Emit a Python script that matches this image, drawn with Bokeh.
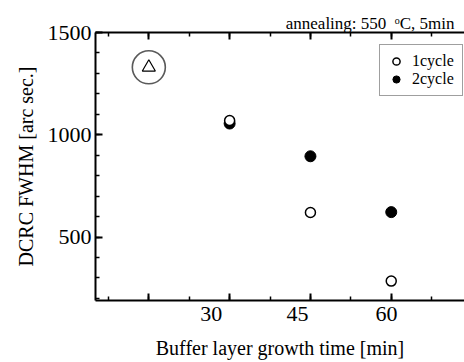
from bokeh.plotting import figure
from bokeh.models import (Legend, LegendItem, LinearAxis, SingleIntervalTicker,
                          FixedTicker, CustomJSTickFormatter, Range1d)
from bokeh.embed import file_html
from bokeh.resources import INLINE

# ---- data ----
x_1cycle = [30, 45, 60]
y_1cycle = [1070, 620, 285]
x_2cycle = [30, 45, 60]
y_2cycle = [1055, 895, 622]
x_ref = [15]
y_ref = [1330]
x_tick_labels = ["30", "45", "60"]
x_tick_label_pos = [26.6, 42.6, 59.1]

FONT = "Liberation Serif"

p = figure(width=464, height=362, output_backend="svg", toolbar_location=None,
           x_range=Range1d(5.1, 73.6), y_range=Range1d(190, 1500),
           min_border_left=95, min_border_right=0, min_border_top=32,
           min_border_bottom=62)
p.outline_line_color = None
p.xgrid.visible = False
p.ygrid.visible = False

xticker = SingleIntervalTicker(interval=15, num_minor_ticks=2)
yticker = SingleIntervalTicker(interval=500, num_minor_ticks=5)
blank = CustomJSTickFormatter(code="return '';")

def style_axis(ax):
    ax.axis_line_width = 2
    ax.major_tick_line_width = 2
    ax.minor_tick_line_width = 1.5
    ax.major_tick_in = 7
    ax.major_tick_out = 0
    ax.minor_tick_in = 4
    ax.minor_tick_out = 0
    ax.major_label_text_font = FONT
    ax.axis_label_text_font = FONT
    ax.axis_label_text_font_style = "normal"
    ax.axis_label_text_color = "black"
    ax.major_label_text_color = "black"

# left axis
ya = p.yaxis[0]
ya.ticker = yticker
style_axis(ya)
ya.major_label_text_font_size = "22px"
ya.major_label_standoff = 4
ya.axis_label = "DCRC FWHM [arc sec.]"
ya.axis_label_text_font_size = "20px"
ya.axis_label_standoff = 8

# bottom axis: ticks only
xa = p.xaxis[0]
xa.ticker = xticker
xa.formatter = blank
style_axis(xa)
xa.major_label_text_font_size = "1px"
xa.major_label_standoff = 0

# bottom label axis: tick labels where the reference draws them, plus title
la = LinearAxis(ticker=FixedTicker(ticks=x_tick_label_pos),
                formatter=CustomJSTickFormatter(
                    args=dict(pos=x_tick_label_pos, labs=x_tick_labels),
                    code="""
                    for (let i = 0; i < pos.length; i++) {
                        if (Math.abs(tick - pos[i]) < 1e-6) return labs[i];
                    }
                    return "";
                    """))
style_axis(la)
la.axis_line_alpha = 0
la.major_tick_line_alpha = 0
la.minor_tick_line_alpha = 0
la.major_tick_in = 0
la.minor_tick_in = 0
la.major_label_text_font_size = "22px"
la.major_label_standoff = 6
la.axis_label = "Buffer layer growth time [min]"
la.axis_label_text_font_size = "20px"
la.axis_label_standoff = 13
p.add_layout(la, "below")

# top axis
ta = LinearAxis(ticker=xticker, formatter=blank)
style_axis(ta)
ta.major_label_text_font_size = "1px"
ta.major_label_standoff = 0
p.add_layout(ta, "above")

# annotation as title
p.title.text = "annealing: 550\u00a0\u00a0\u1d52C, 5min"
p.title.align = "right"
p.title.offset = 10
p.title.standoff = 0
p.title.text_font = FONT
p.title.text_font_size = "17px"
p.title.text_font_style = "normal"
p.title.text_color = "black"

# points
r2 = p.scatter(x_2cycle, y_2cycle, marker="circle", size=11,
               fill_color="black", line_color="black", line_width=1)
r1 = p.scatter(x_1cycle, y_1cycle, marker="circle", size=10,
               fill_color="white", line_color="black", line_width=1.5)
p.scatter(x_ref, y_ref, marker="circle", size=33, fill_color=None,
          line_color="#5a5a5a", line_width=1.6)
p.scatter(x_ref, y_ref, marker="triangle", size=13, fill_color="white",
          line_color="black", line_width=1.2)

legend = Legend(items=[LegendItem(label="1cycle", renderers=[r1]),
                       LegendItem(label="2cycle", renderers=[r2])],
                location=(284, 204), padding=7, spacing=0, margin=0,
                glyph_width=18, glyph_height=18, label_height=18,
                label_width=43, label_standoff=7,
                label_text_font=FONT, label_text_font_size="16px",
                label_text_color="black",
                border_line_color="#404040", border_line_width=1.5,
                background_fill_color="white", background_fill_alpha=1)
p.add_layout(legend)

open("out.html", "w").write(file_html(p, INLINE))
